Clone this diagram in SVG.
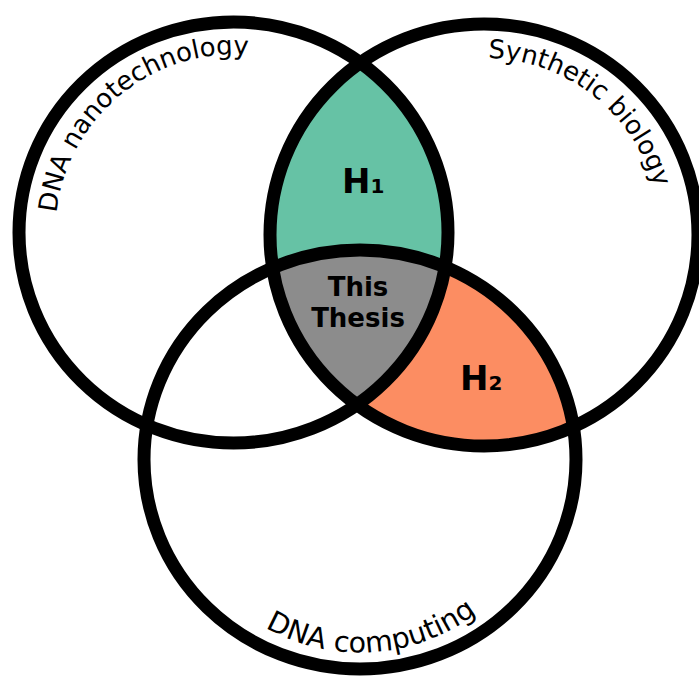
<svg xmlns="http://www.w3.org/2000/svg" xmlns:xlink="http://www.w3.org/1999/xlink" width="699" height="676" viewBox="0 0 699 676">
  <style>
    .ring { fill: none; stroke: #000; stroke-width: 13; }
    .label { font-family: "DejaVu Sans", "Liberation Sans", sans-serif; font-size: 26px; fill: #000; }
    .bold { font-family: "DejaVu Sans", "Liberation Sans", sans-serif; font-weight: bold; fill: #000; }
  </style>
  <defs>
    <clipPath id="clip-left"><ellipse cx="233.5" cy="232.5" rx="214.5" ry="210.5"/></clipPath>
    <clipPath id="clip-bottom"><ellipse cx="360" cy="459.5" rx="216" ry="209.5"/></clipPath>
    <!-- baselines for the curved set labels -->
    <path id="arc-nanotech" d="M 56.6 213 A 178 178 0 0 1 322.5 78.3"/>
    <path id="arc-synbio" d="M 488 58 A 177 177 0 0 1 650.3 295.5"/>
    <path id="arc-computing" d="M 265.3 627.6 A 193 193 0 0 0 541.4 525.5"/>
  </defs>

  <rect width="699" height="676" fill="#fff"/>

  <!-- overlap regions -->
  <g id="region-h1" clip-path="url(#clip-left)">
    <ellipse cx="484" cy="235" rx="214" ry="211" fill="#66c2a5"/>
  </g>
  <g id="region-h2" clip-path="url(#clip-bottom)">
    <ellipse cx="484" cy="235" rx="214" ry="211" fill="#fc8d62"/>
  </g>
  <g id="region-thesis" clip-path="url(#clip-left)">
    <g clip-path="url(#clip-bottom)">
      <ellipse cx="484" cy="235" rx="214" ry="211" fill="#8c8c8c"/>
    </g>
  </g>

  <!-- set outlines -->
  <g id="set-nanotech">
    <ellipse class="ring" cx="233.5" cy="232.5" rx="214.5" ry="210.5"/>
    <text class="label"><textPath xlink:href="#arc-nanotech" href="#arc-nanotech">DNA nanotechnology</textPath></text>
  </g>
  <g id="set-synbio">
    <ellipse class="ring" cx="484" cy="235" rx="214" ry="211"/>
    <text class="label"><textPath xlink:href="#arc-synbio" href="#arc-synbio">Synthetic biology</textPath></text>
  </g>
  <g id="set-computing">
    <ellipse class="ring" cx="360" cy="459.5" rx="216" ry="209.5"/>
    <text class="label" font-size="28.5" style="font-size:28.5px"><textPath xlink:href="#arc-computing" href="#arc-computing">DNA computing</textPath></text>
  </g>

  <!-- region labels -->
  <g id="label-h1">
    <text class="bold" x="342" y="193" font-size="34">H<tspan font-size="20">1</tspan></text>
  </g>
  <g id="label-h2">
    <text class="bold" x="460" y="390" font-size="34">H<tspan font-size="20">2</tspan></text>
  </g>
  <g id="label-thesis">
    <text class="bold" x="358" y="296" font-size="26" text-anchor="middle">This</text>
    <text class="bold" x="358" y="327" font-size="26" text-anchor="middle">Thesis</text>
  </g>
</svg>
